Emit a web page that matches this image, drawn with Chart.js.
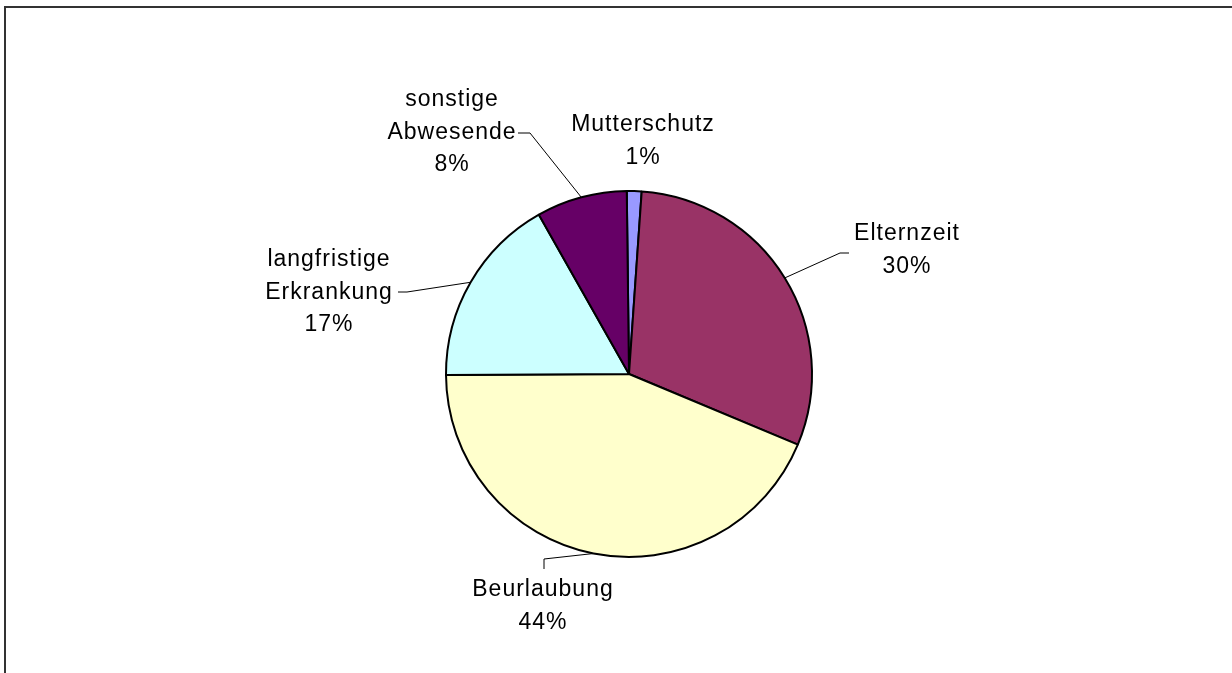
<!DOCTYPE html>
<html>
<head>
<meta charset="utf-8">
<script src="https://cdn.jsdelivr.net/npm/chart.js@4/dist/chart.umd.min.js"></script>
<style>
  html, body { margin: 0; padding: 0; background: #fff; overflow: hidden; }
  canvas { display: block; }
</style>
</head>
<body>
<canvas id="absence" width="1232" height="673"></canvas>
<script>
const categories = ['Mutterschutz', 'Elternzeit', 'Beurlaubung', 'langfristige Erkrankung', 'sonstige Abwesende'];
const shares = [1.3, 30.2, 43.6, 16.9, 8.0];
const sliceColors = ['#9999FF', '#993366', '#FFFFCC', '#CCFFFF', '#660066'];

// where each label sits and how its leader line bends (null = no leader)
const labelLayout = [
  { x: 643, y: 125, elbow: null },
  { x: 907, y: 234, elbow: [840, 253], end: [849, 253] },
  { x: 543, y: 590, elbow: [544, 559], end: [544, 569] },
  { x: 329, y: 260, elbow: [407, 292], end: [398, 292] },
  { x: 452, y: 100, elbow: [530, 133], end: [518, 133] }
];

const frame = {
  id: 'frame',
  beforeDraw(chart) {
    const ctx = chart.ctx;
    ctx.save();
    ctx.strokeStyle = '#333';
    ctx.lineWidth = 2;
    ctx.strokeRect(5, 7, 1400, 900);
    ctx.restore();
  }
};

const sliceLabels = {
  id: 'sliceLabels',
  afterDatasetsDraw(chart) {
    const ctx = chart.ctx;
    const meta = chart.getDatasetMeta(0);
    const total = shares.reduce((a, b) => a + b, 0);
    ctx.save();
    meta.data.forEach((arc, i) => {
      const lay = labelLayout[i];
      if (lay.elbow) {
        const mid = (arc.startAngle + arc.endAngle) / 2;
        const px = arc.x + Math.cos(mid) * arc.outerRadius;
        const py = arc.y + Math.sin(mid) * arc.outerRadius;
        ctx.strokeStyle = '#000';
        ctx.lineWidth = 1;
        ctx.beginPath();
        ctx.moveTo(px, py);
        ctx.lineTo(lay.elbow[0], lay.elbow[1]);
        ctx.lineTo(lay.end[0], lay.end[1]);
        ctx.stroke();
      }
      const lines = categories[i].split(' ');
      lines.push(Math.round(shares[i] / total * 100) + '%');
      ctx.fillStyle = '#000';
      ctx.font = '23px "Liberation Sans", Arial, sans-serif';
      ctx.letterSpacing = '1px';
      ctx.textAlign = 'center';
      ctx.textBaseline = 'middle';
      lines.forEach((t, k) => ctx.fillText(t, lay.x, lay.y + k * 32.5));
    });
    ctx.restore();
  }
};

new Chart(document.getElementById('absence'), {
  type: 'pie',
  data: {
    labels: categories,
    datasets: [{
      data: shares,
      backgroundColor: sliceColors,
      borderColor: '#000',
      borderWidth: 2
    }]
  },
  options: {
    responsive: false,
    animation: false,
    rotation: -0.7,
    layout: { padding: { top: 190, bottom: 115, left: 445, right: 419 } },
    plugins: {
      legend: { display: false },
      tooltip: { enabled: false }
    }
  },
  plugins: [frame, sliceLabels]
});
</script>
</body>
</html>
